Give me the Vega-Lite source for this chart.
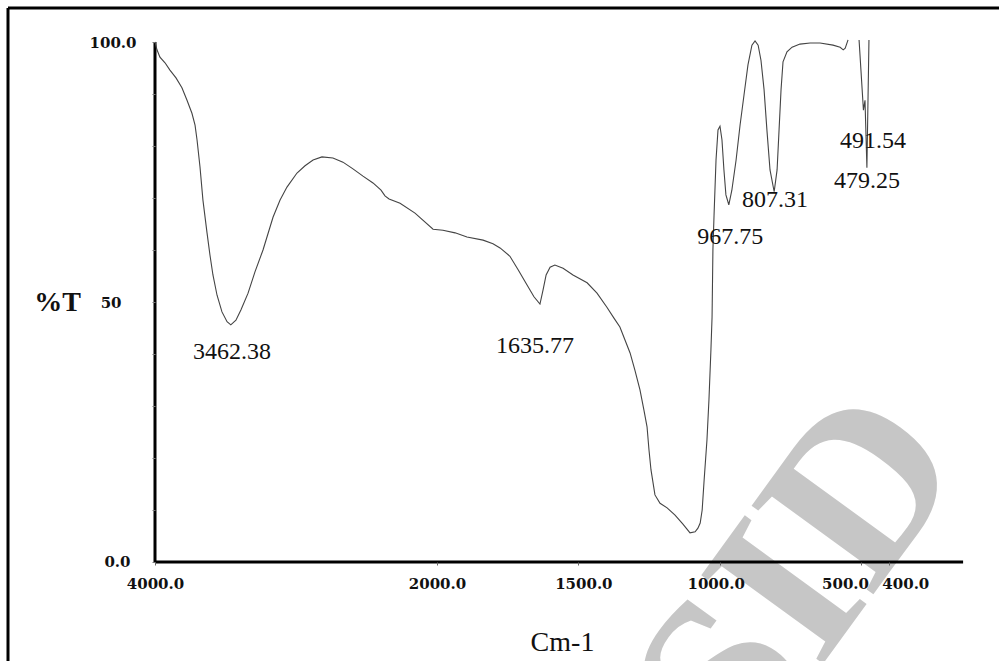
{
  "$schema": "https://vega.github.io/schema/vega-lite/v6.json",
  "width": 991,
  "height": 653,
  "padding": {"left": 8, "top": 8, "right": 0, "bottom": 0},
  "autosize": {"type": "none"},
  "background": "white",
  "config": {"view": {"stroke": null}},
  "datasets": {
    "one": [{}],
    "spectrum": [
      {"wn": 4000, "t": 100.0, "seg": 1}, {"wn": 3986, "t": 98.5, "seg": 1}, {"wn": 3965, "t": 97.1, "seg": 1},
      {"wn": 3929, "t": 96.0, "seg": 1}, {"wn": 3894, "t": 94.6, "seg": 1}, {"wn": 3851, "t": 93.1, "seg": 1},
      {"wn": 3809, "t": 91.2, "seg": 1}, {"wn": 3773, "t": 88.8, "seg": 1}, {"wn": 3738, "t": 86.3, "seg": 1},
      {"wn": 3716, "t": 84.0, "seg": 1}, {"wn": 3702, "t": 81.2, "seg": 1}, {"wn": 3681, "t": 76.0, "seg": 1},
      {"wn": 3660, "t": 69.6, "seg": 1}, {"wn": 3631, "t": 63.3, "seg": 1}, {"wn": 3610, "t": 59.0, "seg": 1},
      {"wn": 3589, "t": 55.2, "seg": 1}, {"wn": 3560, "t": 51.3, "seg": 1}, {"wn": 3525, "t": 48.1, "seg": 1},
      {"wn": 3489, "t": 46.2, "seg": 1}, {"wn": 3462.38, "t": 45.6, "seg": 1}, {"wn": 3426, "t": 46.5, "seg": 1},
      {"wn": 3390, "t": 48.5, "seg": 1}, {"wn": 3340, "t": 51.7, "seg": 1}, {"wn": 3291, "t": 55.8, "seg": 1},
      {"wn": 3234, "t": 60.0, "seg": 1}, {"wn": 3163, "t": 66.3, "seg": 1}, {"wn": 3113, "t": 69.6, "seg": 1},
      {"wn": 3064, "t": 72.1, "seg": 1}, {"wn": 2993, "t": 74.8, "seg": 1}, {"wn": 2936, "t": 76.2, "seg": 1},
      {"wn": 2879, "t": 77.3, "seg": 1}, {"wn": 2816, "t": 77.9, "seg": 1}, {"wn": 2738, "t": 77.7, "seg": 1},
      {"wn": 2667, "t": 76.9, "seg": 1}, {"wn": 2596, "t": 75.6, "seg": 1}, {"wn": 2525, "t": 74.2, "seg": 1},
      {"wn": 2454, "t": 72.9, "seg": 1}, {"wn": 2397, "t": 71.5, "seg": 1}, {"wn": 2369, "t": 70.4, "seg": 1},
      {"wn": 2340, "t": 69.8, "seg": 1}, {"wn": 2262, "t": 69.0, "seg": 1}, {"wn": 2156, "t": 67.1, "seg": 1},
      {"wn": 2028, "t": 64.0, "seg": 1}, {"wn": 1979, "t": 63.8, "seg": 1}, {"wn": 1936, "t": 63.3, "seg": 1},
      {"wn": 1894, "t": 62.5, "seg": 1}, {"wn": 1837, "t": 61.9, "seg": 1}, {"wn": 1802, "t": 61.2, "seg": 1},
      {"wn": 1777, "t": 60.4, "seg": 1}, {"wn": 1742, "t": 58.8, "seg": 1}, {"wn": 1713, "t": 56.2, "seg": 1},
      {"wn": 1682, "t": 53.3, "seg": 1}, {"wn": 1657, "t": 51.0, "seg": 1}, {"wn": 1635.77, "t": 49.6, "seg": 1},
      {"wn": 1625, "t": 52.3, "seg": 1}, {"wn": 1614, "t": 55.2, "seg": 1}, {"wn": 1600, "t": 56.7, "seg": 1},
      {"wn": 1583, "t": 57.1, "seg": 1}, {"wn": 1554, "t": 56.5, "seg": 1}, {"wn": 1519, "t": 55.2, "seg": 1},
      {"wn": 1469, "t": 53.7, "seg": 1}, {"wn": 1434, "t": 51.7, "seg": 1}, {"wn": 1399, "t": 49.0, "seg": 1},
      {"wn": 1374, "t": 46.9, "seg": 1}, {"wn": 1353, "t": 45.2, "seg": 1}, {"wn": 1335, "t": 42.7, "seg": 1},
      {"wn": 1317, "t": 40.2, "seg": 1}, {"wn": 1300, "t": 36.9, "seg": 1}, {"wn": 1282, "t": 33.1, "seg": 1},
      {"wn": 1268, "t": 29.2, "seg": 1}, {"wn": 1257, "t": 26.0, "seg": 1}, {"wn": 1250, "t": 21.5, "seg": 1},
      {"wn": 1243, "t": 17.7, "seg": 1}, {"wn": 1229, "t": 12.9, "seg": 1}, {"wn": 1211, "t": 11.3, "seg": 1},
      {"wn": 1186, "t": 10.4, "seg": 1}, {"wn": 1158, "t": 9.0, "seg": 1}, {"wn": 1130, "t": 7.3, "seg": 1},
      {"wn": 1105, "t": 5.6, "seg": 1}, {"wn": 1087, "t": 5.8, "seg": 1}, {"wn": 1077, "t": 6.5, "seg": 1},
      {"wn": 1069, "t": 7.5, "seg": 1}, {"wn": 1062, "t": 10.0, "seg": 1}, {"wn": 1055, "t": 15.8, "seg": 1},
      {"wn": 1045, "t": 23.5, "seg": 1}, {"wn": 1038, "t": 31.2, "seg": 1}, {"wn": 1031, "t": 40.8, "seg": 1},
      {"wn": 1027, "t": 47.1, "seg": 1}, {"wn": 1024, "t": 60.0, "seg": 1}, {"wn": 1020, "t": 66.7, "seg": 1},
      {"wn": 1013, "t": 77.3, "seg": 1}, {"wn": 1006, "t": 83.1, "seg": 1}, {"wn": 999, "t": 83.8, "seg": 1},
      {"wn": 992, "t": 81.2, "seg": 1}, {"wn": 985, "t": 75.4, "seg": 1}, {"wn": 978, "t": 70.6, "seg": 1},
      {"wn": 967.75, "t": 68.7, "seg": 1}, {"wn": 957, "t": 71.5, "seg": 1}, {"wn": 942, "t": 77.3, "seg": 1},
      {"wn": 928, "t": 84.0, "seg": 1}, {"wn": 914, "t": 89.8, "seg": 1}, {"wn": 900, "t": 95.6, "seg": 1},
      {"wn": 886, "t": 99.4, "seg": 1}, {"wn": 875, "t": 100.2, "seg": 1}, {"wn": 864, "t": 99.4, "seg": 1},
      {"wn": 854, "t": 96.5, "seg": 1}, {"wn": 843, "t": 90.8, "seg": 1}, {"wn": 833, "t": 83.1, "seg": 1},
      {"wn": 822, "t": 75.4, "seg": 1}, {"wn": 807.31, "t": 71.2, "seg": 1}, {"wn": 797, "t": 75.4, "seg": 1},
      {"wn": 790, "t": 83.1, "seg": 1}, {"wn": 783, "t": 90.8, "seg": 1}, {"wn": 776, "t": 96.2, "seg": 1},
      {"wn": 762, "t": 98.1, "seg": 1}, {"wn": 744, "t": 99.0, "seg": 1}, {"wn": 716, "t": 99.6, "seg": 1},
      {"wn": 680, "t": 99.8, "seg": 1}, {"wn": 645, "t": 99.8, "seg": 1}, {"wn": 599, "t": 99.4, "seg": 1},
      {"wn": 574, "t": 99.0, "seg": 1}, {"wn": 563, "t": 98.5, "seg": 1}, {"wn": 556, "t": 98.8, "seg": 1},
      {"wn": 546, "t": 100.4, "seg": 1},
      {"wn": 507, "t": 100.4, "seg": 2}, {"wn": 491.54, "t": 86.9, "seg": 2}, {"wn": 486, "t": 88.8, "seg": 2},
      {"wn": 479.25, "t": 75.8, "seg": 2}, {"wn": 472, "t": 100.4, "seg": 2}
    ],
    "peaks": [
      {"label": "3462.38", "wn": 3454, "t": 40.4},
      {"label": "1635.77", "wn": 1653, "t": 41.5},
      {"label": "967.75", "wn": 963, "t": 62.5},
      {"label": "807.31", "wn": 804, "t": 69.6},
      {"label": "491.54", "wn": 458, "t": 81.0},
      {"label": "479.25", "wn": 479, "t": 73.3}
    ]
  },
  "layer": [
    {
      "data": {"name": "one"},
      "mark": {"type": "text", "text": "Archive of SID", "angle": -54, "align": "right", "baseline": "alphabetic", "font": "Liberation Serif", "fontSize": 230, "fontWeight": "bold", "fill": "#c6c6c6", "strokeWidth": 0, "opacity": 1},
      "encoding": {
        "x": {"datum": 119, "type": "quantitative"},
        "y": {"datum": 19, "type": "quantitative"}
      }
    },
    {
      "data": {"name": "one"},
      "mark": {"type": "rule", "strokeWidth": 3, "color": "black"},
      "encoding": {
        "x": {"datum": 5042.6, "type": "quantitative"},
        "y": {"datum": -19.04, "type": "quantitative"},
        "y2": {"datum": 106.54}
      }
    },
    {
      "data": {"name": "one"},
      "mark": {"type": "rule", "strokeWidth": 3, "color": "black"},
      "encoding": {
        "y": {"datum": 106.54, "type": "quantitative"},
        "x": {"datum": 5042.6, "type": "quantitative"},
        "x2": {"datum": 12}
      }
    },
    {
      "data": {"name": "one"},
      "mark": {"type": "rule", "strokeWidth": 3, "color": "black"},
      "encoding": {
        "x": {"datum": 4000, "type": "quantitative"},
        "y": {"datum": 0, "type": "quantitative"},
        "y2": {"datum": 100}
      }
    },
    {
      "data": {"name": "one"},
      "mark": {"type": "rule", "strokeWidth": 3, "color": "black"},
      "encoding": {
        "y": {"datum": 0, "type": "quantitative"},
        "x": {"datum": 4000, "type": "quantitative"},
        "x2": {"datum": 139}
      }
    },
    {
      "data": {"name": "spectrum"},
      "mark": {"type": "line", "color": "#444444", "strokeWidth": 1.1, "interpolate": "linear"},
      "encoding": {
        "x": {
          "field": "wn", "type": "quantitative",
          "scale": {"domain": [5042.6, 4000, 2000, 12], "range": [0, 147, 429, 991], "nice": false, "zero": false},
          "axis": {
            "title": "Cm-1", "titleFont": "Liberation Serif", "titleFontSize": 28, "titleFontWeight": "normal", "titleColor": "#111111",
            "titleX": 554, "titleY": 80, "titleAlign": "center", "titleBaseline": "middle", "titleAngle": 0,
            "values": [4000, 2000, 1500, 1000, 500, 400],
            "labelExpr": "format(datum.value, '.1f')",
            "domain": false, "grid": false, "offset": -99, "tickSize": 3, "tickColor": "#666666",
            "labelFont": "DejaVu Serif", "labelFontWeight": "bold", "labelFontSize": 15, "labelColor": "#111111",
            "labelPadding": 11, "labelBaseline": "top", "labelOverlap": false, "labelFlush": false, "labelBound": false,
            "labelOffset": {"expr": "datum.value == 500 ? -16 : datum.value == 400 ? 16 : datum.value == 1500 ? 5 : datum.value == 1000 ? -4 : 0"},
            "zindex": 1
          }
        },
        "y": {
          "field": "t", "type": "quantitative",
          "scale": {"domain": [-19.04, 106.54], "nice": false, "zero": false},
          "axis": {
            "title": "%T", "titleFont": "Liberation Serif", "titleFontSize": 28, "titleFontWeight": "bold", "titleColor": "#111111",
            "titleX": -98, "titleY": 294, "titleAlign": "center", "titleBaseline": "middle", "titleAngle": 0,
            "values": [0, 5, 10, 15, 20, 25, 30, 35, 40, 45, 50, 55, 60, 65, 70, 75, 80, 85, 90, 95, 100],
            "labelExpr": "datum.value == 100 ? '100.0' : datum.value == 50 ? '50' : datum.value == 0 ? '0.0' : ''",
            "domain": false, "grid": false, "offset": -147, "tickSize": 3, "tickColor": "#777777",
            "labelFont": "DejaVu Serif", "labelFontWeight": "bold", "labelFontSize": 15, "labelColor": "#111111",
            "labelPadding": {"expr": "datum.value == 50 ? 31 : datum.value == 0 ? 22 : 16"},
            "labelBaseline": "middle", "labelOverlap": false, "labelFlush": false, "labelBound": false,
            "zindex": 1
          }
        },
        "detail": {"field": "seg", "type": "nominal"}
      }
    },
    {
      "data": {"name": "peaks"},
      "mark": {"type": "text", "font": "Liberation Serif", "fontSize": 24, "color": "#111111", "align": "center", "baseline": "middle"},
      "encoding": {
        "x": {"field": "wn", "type": "quantitative"},
        "y": {"field": "t", "type": "quantitative"},
        "text": {"field": "label", "type": "nominal"}
      }
    }
  ]
}
